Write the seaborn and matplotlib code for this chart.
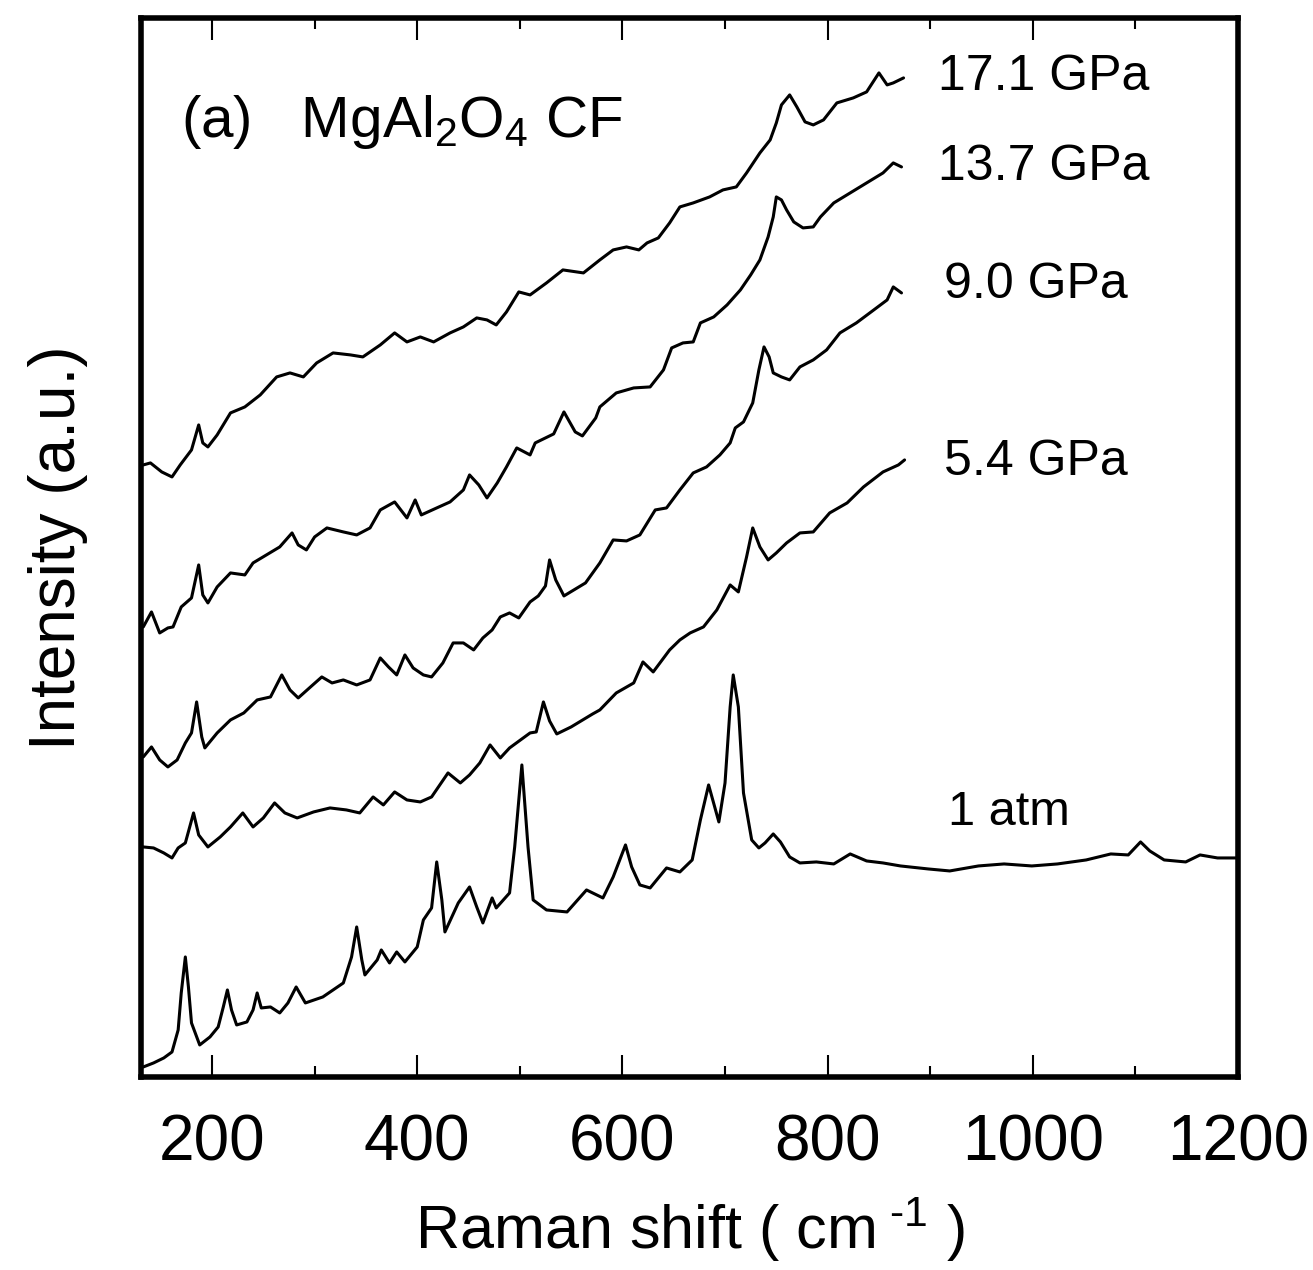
import matplotlib
matplotlib.use('Agg')
import pandas as pd
import seaborn as sns
import matplotlib.pyplot as plt
from matplotlib.ticker import MultipleLocator

# Raman shift (cm-1) and offset intensity (a.u.)
atm1_x = [133, 143, 153, 161, 167, 170, 174, 177, 180, 188, 198, 206, 211, 215, 219, 224, 234, 240, 244, 248,
          257, 266, 274, 282, 291, 308, 328, 336, 341, 346, 349, 361, 365, 373, 380, 388, 400, 406, 414, 419,
          424, 427, 440, 451, 458, 464, 473, 477, 490, 495, 502, 508, 513, 526, 546, 565, 581, 591, 603, 609,
          617, 627, 643, 656, 668, 676, 684, 694, 700, 705, 708, 713, 718, 726, 733, 739, 747, 754, 763, 773,
          789, 806, 822, 838, 854, 871, 898, 919, 947, 972, 999, 1024, 1052, 1076, 1093, 1105, 1114, 1128, 1149, 1163,
          1180, 1198]
atm1_y = [1.0, 1.4, 1.9, 2.5, 4.7, 8.4, 12.0, 9.0, 5.4, 3.2, 4.0, 5.0, 7.0, 8.7, 6.7, 5.2, 5.5, 6.7, 8.4, 6.9,
          7.0, 6.4, 7.4, 9.0, 7.4, 8.0, 9.4, 12.0, 15.0, 11.7, 10.2, 11.7, 12.7, 11.4, 12.5, 11.5, 13.0, 15.7, 16.9, 21.5,
          17.7, 14.5, 17.4, 19.0, 17.0, 15.4, 17.9, 16.9, 18.4, 23.0, 31.2, 23.0, 17.7, 16.7, 16.5, 18.7, 17.9, 20.0, 23.2, 21.0,
          19.2, 18.9, 20.9, 20.5, 21.7, 25.7, 29.2, 25.5, 29.4, 37.0, 40.2, 37.0, 28.4, 23.7, 22.9, 23.4, 24.3, 23.5, 22.0, 21.4,
          21.5, 21.3, 22.3, 21.6, 21.4, 21.1, 20.8, 20.6, 21.1, 21.3, 21.1, 21.3, 21.7, 22.3, 22.2, 23.5, 22.6, 21.7, 21.5, 22.2,
          21.9, 21.9]

gpa54_x = [133, 143, 153, 161, 167, 174, 182, 187, 196, 208, 218, 230, 240, 250, 261, 271, 283, 299, 315, 331,
           344, 357, 367, 378, 390, 403, 414, 430, 442, 451, 461, 471, 481, 490, 510, 516, 523, 529, 536, 550,
           571, 578, 594, 611, 620, 630, 646, 656, 666, 679, 692, 705, 713, 721, 727, 734, 742, 750, 760, 773,
           786, 802, 819, 835, 854, 869, 875]
gpa54_y = [23.0, 22.9, 22.4, 21.9, 22.9, 23.4, 26.4, 24.2, 23.0, 24.0, 25.0, 26.4, 25.0, 25.9, 27.4, 26.4, 25.9, 26.5, 26.9, 26.7,
           26.4, 28.0, 27.2, 28.5, 27.7, 27.5, 28.0, 30.4, 29.4, 30.2, 31.4, 33.2, 31.9, 32.9, 34.4, 34.5, 37.5, 35.6, 34.3, 35.0,
           36.3, 36.7, 38.4, 39.4, 41.5, 40.5, 42.7, 43.7, 44.4, 45.0, 46.7, 49.2, 48.5, 52.0, 54.9, 53.0, 51.7, 52.4, 53.4, 54.4,
           54.5, 56.4, 57.4, 59.0, 60.5, 61.2, 61.7]

gpa90_x = [133, 141, 149, 157, 166, 174, 180, 185, 190, 193, 205, 218, 231, 244, 257, 268, 276, 284, 296, 307,
           317, 328, 341, 354, 364, 372, 380, 388, 396, 406, 414, 425, 435, 445, 455, 464, 473, 481, 490, 499,
           510, 518, 525, 529, 535, 543, 564, 578, 591, 604, 617, 632, 643, 656, 669, 682, 695, 705, 710, 718,
           727, 733, 738, 743, 747, 755, 763, 773, 786, 799, 812, 828, 845, 858, 864, 872]
gpa90_y = [32.0, 33.0, 31.7, 31.0, 31.7, 33.4, 34.4, 37.5, 34.0, 32.9, 34.4, 35.7, 36.4, 37.7, 38.0, 40.2, 38.7, 37.9, 39.0, 40.0,
           39.4, 39.7, 39.2, 39.7, 41.9, 41.0, 40.2, 42.2, 40.9, 40.2, 40.0, 41.4, 43.4, 43.4, 42.7, 43.9, 44.7, 46.0, 46.4, 45.9,
           47.5, 48.1, 49.1, 51.7, 49.7, 48.1, 49.4, 51.4, 53.7, 53.6, 54.2, 56.7, 56.9, 58.7, 60.4, 61.0, 62.2, 63.4, 64.9, 65.5,
           67.4, 70.7, 73.0, 72.0, 70.4, 70.0, 69.7, 71.0, 71.7, 72.7, 74.4, 75.4, 76.7, 77.7, 79.0, 78.4]

gpa137_x = [133, 141, 149, 157, 162, 170, 180, 187, 191, 196, 205, 218, 232, 240, 253, 266, 278, 284, 292, 300,
            312, 328, 341, 354, 364, 378, 390, 398, 404, 419, 432, 445, 451, 460, 468, 478, 487, 497, 510, 515,
            533, 543, 554, 561, 574, 578, 594, 611, 627, 640, 648, 659, 669, 676, 689, 702, 715, 725, 734, 742,
            747, 750, 755, 760, 767, 776, 786, 793, 806, 822, 838, 854, 864, 872]
gpa137_y = [45.0, 46.5, 44.4, 44.9, 45.0, 47.0, 47.9, 51.2, 48.2, 47.4, 49.0, 50.4, 50.2, 51.4, 52.2, 53.0, 54.4, 53.2, 52.7, 54.0,
            54.9, 54.5, 54.2, 54.9, 56.7, 57.5, 55.9, 57.7, 56.2, 56.9, 57.5, 58.7, 60.2, 59.2, 57.9, 59.4, 61.0, 62.9, 62.2, 63.4,
            64.3, 66.5, 64.5, 64.1, 65.9, 67.0, 68.4, 68.9, 69.0, 70.7, 72.9, 73.4, 73.5, 75.4, 76.0, 77.2, 78.7, 80.2, 81.7, 84.0,
            86.0, 88.0, 87.7, 86.7, 85.5, 84.9, 85.0, 86.0, 87.4, 88.4, 89.4, 90.4, 91.4, 91.0]

gpa171_x = [133, 140, 151, 161, 169, 180, 187, 191, 196, 205, 218, 232, 247, 263, 276, 289, 302, 318, 335, 347,
            364, 378, 390, 403, 416, 432, 445, 458, 468, 477, 487, 499, 510, 526, 542, 562, 578, 591, 604, 616,
            624, 635, 646, 656, 669, 685, 698, 711, 721, 734, 744, 750, 755, 763, 770, 778, 786, 796, 809, 825,
            838, 850, 858, 864, 874]
gpa171_y = [61.2, 61.4, 60.5, 60.0, 61.2, 62.7, 65.2, 63.4, 63.0, 64.2, 66.4, 67.0, 68.2, 70.0, 70.4, 70.0, 71.4, 72.4, 72.2, 72.0,
            73.2, 74.4, 73.5, 74.0, 73.5, 74.4, 75.0, 75.9, 75.7, 75.2, 76.5, 78.5, 78.2, 79.4, 80.7, 80.4, 81.7, 82.7, 83.0, 82.7,
            83.4, 83.9, 85.4, 87.0, 87.4, 88.0, 88.7, 89.0, 90.4, 92.4, 93.7, 95.4, 97.2, 98.2, 97.0, 95.5, 95.2, 95.7, 97.4, 97.9,
            98.5, 100.4, 99.2, 99.4, 99.9]

labels = ['17.1 GPa', '13.7 GPa', '9.0 GPa', '5.4 GPa', '1 atm']
label_x = [908, 908, 913, 913, 917]
label_y = [100.0, 91.0, 79.2, 61.5, 26.4]

spectra = [
    (gpa171_x, gpa171_y), (gpa137_x, gpa137_y), (gpa90_x, gpa90_y),
    (gpa54_x, gpa54_y), (atm1_x, atm1_y),
]
frames = []
for lab, (xs, ys) in zip(labels, spectra):
    frames.append(pd.DataFrame({'shift': xs, 'intensity': ys, 'pressure': lab}))
df = pd.concat(frames, ignore_index=True)

sns.set_style('ticks')
plt.rcParams['font.family'] = ['Liberation Sans', 'DejaVu Sans']
plt.rcParams['mathtext.fontset'] = 'custom'
plt.rcParams['mathtext.rm'] = 'Liberation Sans'
plt.rcParams['mathtext.it'] = 'Liberation Sans:italic'
plt.rcParams['mathtext.default'] = 'regular'
plt.rcParams['text.color'] = 'black'
plt.rcParams['axes.labelcolor'] = 'black'
plt.rcParams['xtick.color'] = 'black'
plt.rcParams['xtick.labelcolor'] = 'black'

fig = plt.figure(figsize=(13.13, 12.70), dpi=100)
ax = fig.add_axes([0.1074, 0.152, 0.8355, 0.8339])

for lab in labels:
    sub = df[df['pressure'] == lab]
    sns.lineplot(data=sub, x='shift', y='intensity', ax=ax, color='black',
                 lw=2.2, estimator=None, sort=False)

for lab, tx, ty in zip(labels, label_x, label_y):
    ax.text(tx, ty, lab, fontsize=36 if lab != '1 atm' else 35, ha='left', va='center')

ax.text(170, 94.0, '(a)   MgAl$_2$O$_4$ CF', fontsize=42, ha='left', va='baseline')

ax.set_xlim(130.8, 1200)
ax.set_ylim(0, 105.9)
ax.xaxis.set_major_locator(MultipleLocator(200))
ax.xaxis.set_minor_locator(MultipleLocator(100))
ax.set_yticks([])
ax.tick_params(axis='x', which='both', direction='in', top=True, bottom=True,
               width=1.5, color='black', labelsize=46, pad=26)
ax.tick_params(axis='x', which='major', length=16)
ax.tick_params(axis='x', which='minor', length=8)
ax.tick_params(axis='y', left=False, right=False)
for s in ax.spines.values():
    s.set_linewidth(4)
    s.set_color('black')

ax.set_xlabel('Raman shift ( cm$^{\\text{ -1}}$ )', fontsize=44)
ax.set_ylabel('Intensity (a.u.)', fontsize=46)
ax.xaxis.set_label_coords(0.5, -0.112)
ax.yaxis.set_label_coords(-0.048, 0.5)

fig.savefig('out.png', dpi=100)
